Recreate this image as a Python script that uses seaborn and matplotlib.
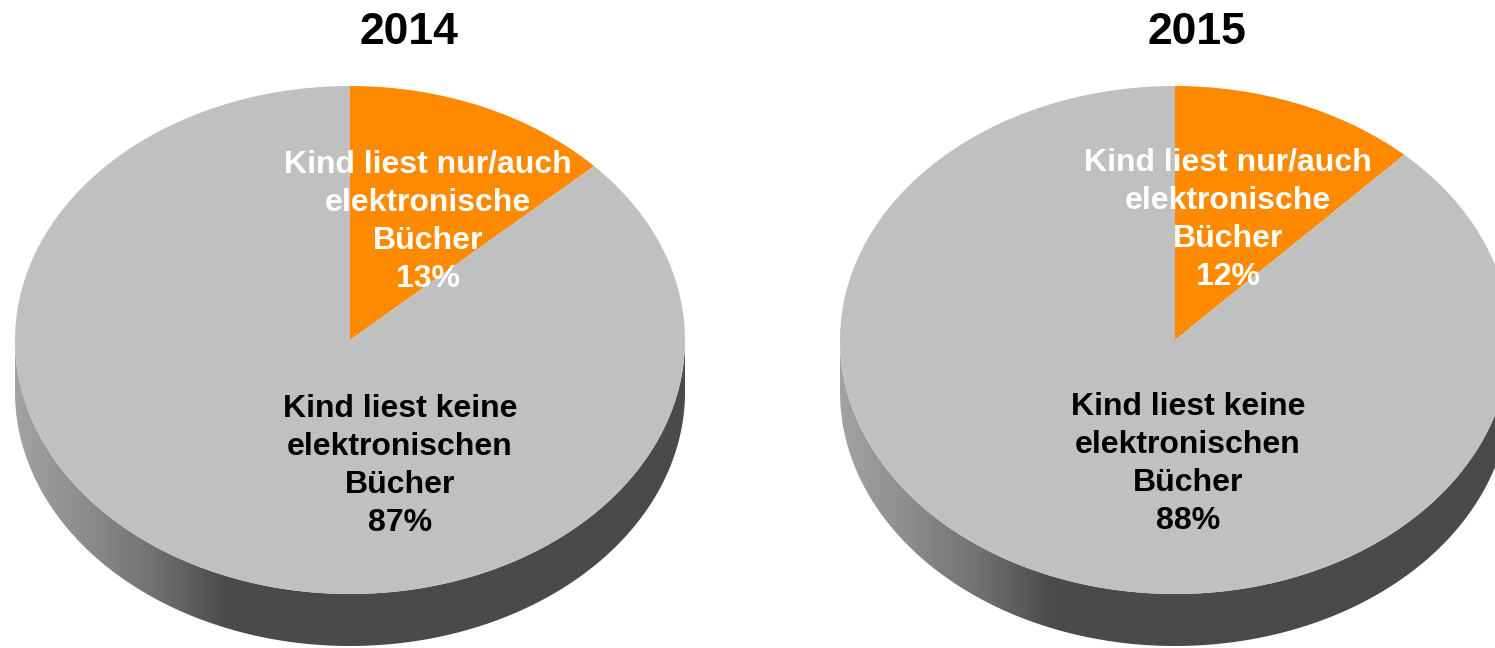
import numpy as np
import matplotlib
matplotlib.use("Agg")
import matplotlib.pyplot as plt
from matplotlib import font_manager
from matplotlib.patches import Polygon
from matplotlib.colors import LinearSegmentedColormap
import seaborn as sns

# ---- data ----
years = ["2014", "2015"]
share_ebooks = [13, 12]
share_no_ebooks = [87, 88]
label_ebooks = "Kind liest nur/auch\nelektronische\nBücher"
label_no_ebooks = "Kind liest keine\nelektronischen\nBücher"
colors = ["#FF8A00", "#C0C0C0"]

sns.set_theme(style="white")
names = {f.name for f in font_manager.fontManager.ttflist}
title_family = "Liberation Sans Narrow" if "Liberation Sans Narrow" in names else "Liberation Sans"
plt.rcParams["font.family"] = ["Liberation Sans", "DejaVu Sans"]

W, H = 1495, 648
RX, RY = 335.0, 254.0      # pixel radii of the ellipse
DEPTH = 52.0               # pixel depth of pie side
fig = plt.figure(figsize=(W / 100, H / 100), dpi=100)
ax = fig.add_axes([0, 0, 1, 1])

def to_data(px, py):
    return px / RX, (H - py) / RY

centers_px = [(350, 340), (1175, 340)]
orange_lab_px = [(428, 222), (1228, 220)]
gray_lab_px = [(400, 466), (1188, 464)]
title_px = [(409, 33), (1197, 33)]

side_cmap = LinearSegmentedColormap.from_list(
    "side", ["#A2A2A2", "#8C8C8C", "#707070", "#4B4B4B", "#4A4A4A"])

for i, year in enumerate(years):
    cx, cy = to_data(*centers_px[i])
    d = DEPTH / RY
    # side of the 3D pie (lower half of the ellipse extruded)
    t = np.linspace(np.pi, 2 * np.pi, 200)
    top = np.column_stack([cx + np.cos(t), cy + np.sin(t)])
    bot = np.column_stack([cx + np.cos(t[::-1]), cy + np.sin(t[::-1]) - d])
    poly = Polygon(np.vstack([top, bot]), closed=True, facecolor="none",
                   edgecolor="none", zorder=1)
    ax.add_patch(poly)
    x0, x1 = cx - 1, cx + 1
    xs = np.linspace(0, 1, 400)
    grad = np.clip(xs / 0.42, 0, 1)[None, :]
    im = ax.imshow(grad, cmap=side_cmap, vmin=0, vmax=1, aspect="auto",
                   extent=[x0, x1, cy - 1 - d, cy], zorder=1,
                   interpolation="bilinear")
    im.set_clip_path(poly)

    ax.pie([share_ebooks[i], share_no_ebooks[i]], colors=colors,
           startangle=90, counterclock=False, center=(cx, cy), radius=1,
           wedgeprops=dict(linewidth=0, edgecolor="none", zorder=2))

    ox, oy = to_data(*orange_lab_px[i])
    ax.text(ox, oy, f"{label_ebooks}\n{share_ebooks[i]}%", ha="center",
            va="center", color="white", fontsize=23, fontweight="bold",
            linespacing=1.36, zorder=5)
    gx, gy = to_data(*gray_lab_px[i])
    ax.text(gx, gy, f"{label_no_ebooks}\n{share_no_ebooks[i]}%", ha="center",
            va="center", color="black", fontsize=23, fontweight="bold",
            linespacing=1.36, zorder=5)
    tx, ty = to_data(*title_px[i])
    ax.text(tx, ty, year, ha="center", va="center", color="black",
            fontsize=32, fontweight="bold", family=[title_family, "DejaVu Sans"],
            zorder=5)

ax.set_aspect("auto")
ax.set_xlim(0, W / RX)
ax.set_ylim(0, H / RY)
ax.axis("off")
fig.savefig("out.png", dpi=100, facecolor="white")
